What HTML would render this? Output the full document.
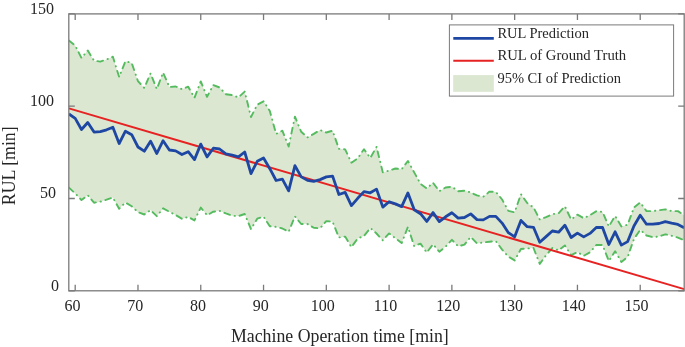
<!DOCTYPE html><html><head><meta charset="utf-8"><style>html,body{margin:0;padding:0;background:#fff;}svg{display:block;will-change:transform;}text{font-family:"Liberation Serif",serif;fill:#262626;}</style></head><body>
<svg width="685" height="347" viewBox="0 0 685 347">
<defs><clipPath id="c"><rect x="68.80" y="13.90" width="615.40" height="276.90"/></clipPath></defs>
<rect width="685" height="347" fill="#fff"/>
<g clip-path="url(#c)">
<polygon points="68.92,40.50 75.20,45.50 81.48,58.00 87.76,50.50 94.03,60.70 100.31,61.60 106.59,59.50 112.87,56.70 119.15,77.00 125.42,61.20 131.70,63.00 137.98,81.20 144.26,87.90 150.54,73.50 156.81,89.00 163.09,72.60 169.37,87.00 175.65,86.50 181.93,89.20 188.20,86.70 194.48,97.70 200.76,81.40 207.04,96.80 213.32,85.10 219.59,87.50 225.87,94.20 232.15,95.10 238.43,97.40 244.71,91.60 250.98,117.00 257.26,104.70 263.54,101.30 269.82,110.90 276.10,133.90 282.37,130.70 288.65,146.50 294.93,116.70 301.21,131.80 307.49,137.40 313.76,133.90 320.04,130.00 326.32,132.50 332.60,130.70 338.88,148.80 345.15,149.40 351.43,162.70 357.71,158.30 363.99,149.20 370.27,158.00 376.54,146.90 382.82,172.40 389.10,170.60 395.38,168.50 401.66,169.20 407.93,161.00 414.21,172.40 420.49,183.80 426.77,188.40 433.05,182.80 439.32,191.20 445.60,187.50 451.88,186.70 458.16,191.20 464.44,190.70 470.71,192.50 476.99,195.40 483.27,196.80 489.55,191.60 495.83,191.90 502.10,199.50 508.38,210.90 514.66,212.30 520.94,194.20 527.22,203.00 533.49,207.40 539.77,219.50 546.05,217.20 552.33,214.20 558.61,213.30 564.88,206.30 571.16,219.50 577.44,214.70 583.72,218.20 590.00,215.10 596.27,211.20 602.55,211.90 608.83,226.50 615.11,216.00 621.39,226.50 627.66,224.70 633.94,207.50 640.22,202.50 646.50,211.10 652.78,211.10 659.05,210.30 665.33,209.40 671.61,211.10 677.89,211.10 684.17,215.50 684.17,240.20 677.89,237.60 671.61,235.80 665.33,234.30 659.05,236.50 652.78,237.20 646.50,235.50 640.22,229.80 633.94,239.00 627.66,257.00 621.39,261.90 615.11,251.20 608.83,261.00 602.55,245.00 596.27,245.00 590.00,252.30 583.72,255.80 577.44,252.10 571.16,255.10 564.88,245.40 558.61,250.30 552.33,248.00 546.05,255.30 539.77,263.90 533.49,248.00 527.22,248.50 520.94,249.00 514.66,260.40 508.38,256.60 502.10,249.60 495.83,241.10 489.55,241.70 483.27,242.50 476.99,243.40 470.71,236.90 464.44,244.60 458.16,246.30 451.88,239.80 445.60,246.60 439.32,251.70 433.05,244.30 426.77,252.50 420.49,243.60 414.21,246.20 407.93,226.90 401.66,243.10 395.38,238.20 389.10,233.40 382.82,240.40 376.54,233.50 370.27,228.00 363.99,236.00 357.71,238.50 351.43,247.10 345.15,236.60 338.88,237.50 332.60,221.70 326.32,221.10 320.04,228.30 313.76,227.80 307.49,224.00 301.21,224.00 294.93,216.40 288.65,231.80 282.37,228.50 276.10,226.90 269.82,226.20 263.54,216.60 257.26,218.70 250.98,229.20 244.71,214.00 238.43,216.10 232.15,215.70 225.87,213.40 219.59,210.80 213.32,211.70 207.04,215.20 200.76,207.60 194.48,220.40 188.20,216.90 181.93,218.80 175.65,215.00 169.37,211.80 163.09,208.30 156.81,216.20 150.54,210.10 144.26,214.50 137.98,212.20 131.70,206.20 125.42,202.50 119.15,208.70 112.87,197.50 106.59,199.60 100.31,201.70 94.03,202.70 87.76,195.20 81.48,200.10 75.20,193.40 68.92,187.60" fill="#dbe7d1"/>
<polyline points="68.92,40.50 75.20,45.50 81.48,58.00 87.76,50.50 94.03,60.70 100.31,61.60 106.59,59.50 112.87,56.70 119.15,77.00 125.42,61.20 131.70,63.00 137.98,81.20 144.26,87.90 150.54,73.50 156.81,89.00 163.09,72.60 169.37,87.00 175.65,86.50 181.93,89.20 188.20,86.70 194.48,97.70 200.76,81.40 207.04,96.80 213.32,85.10 219.59,87.50 225.87,94.20 232.15,95.10 238.43,97.40 244.71,91.60 250.98,117.00 257.26,104.70 263.54,101.30 269.82,110.90 276.10,133.90 282.37,130.70 288.65,146.50 294.93,116.70 301.21,131.80 307.49,137.40 313.76,133.90 320.04,130.00 326.32,132.50 332.60,130.70 338.88,148.80 345.15,149.40 351.43,162.70 357.71,158.30 363.99,149.20 370.27,158.00 376.54,146.90 382.82,172.40 389.10,170.60 395.38,168.50 401.66,169.20 407.93,161.00 414.21,172.40 420.49,183.80 426.77,188.40 433.05,182.80 439.32,191.20 445.60,187.50 451.88,186.70 458.16,191.20 464.44,190.70 470.71,192.50 476.99,195.40 483.27,196.80 489.55,191.60 495.83,191.90 502.10,199.50 508.38,210.90 514.66,212.30 520.94,194.20 527.22,203.00 533.49,207.40 539.77,219.50 546.05,217.20 552.33,214.20 558.61,213.30 564.88,206.30 571.16,219.50 577.44,214.70 583.72,218.20 590.00,215.10 596.27,211.20 602.55,211.90 608.83,226.50 615.11,216.00 621.39,226.50 627.66,224.70 633.94,207.50 640.22,202.50 646.50,211.10 652.78,211.10 659.05,210.30 665.33,209.40 671.61,211.10 677.89,211.10 684.17,215.50" fill="none" stroke="#55bb5f" stroke-width="1.9" stroke-dasharray="5.9 4.8 0.3 4.7" stroke-linejoin="round" stroke-linecap="round"/>
<polyline points="68.92,187.60 75.20,193.40 81.48,200.10 87.76,195.20 94.03,202.70 100.31,201.70 106.59,199.60 112.87,197.50 119.15,208.70 125.42,202.50 131.70,206.20 137.98,212.20 144.26,214.50 150.54,210.10 156.81,216.20 163.09,208.30 169.37,211.80 175.65,215.00 181.93,218.80 188.20,216.90 194.48,220.40 200.76,207.60 207.04,215.20 213.32,211.70 219.59,210.80 225.87,213.40 232.15,215.70 238.43,216.10 244.71,214.00 250.98,229.20 257.26,218.70 263.54,216.60 269.82,226.20 276.10,226.90 282.37,228.50 288.65,231.80 294.93,216.40 301.21,224.00 307.49,224.00 313.76,227.80 320.04,228.30 326.32,221.10 332.60,221.70 338.88,237.50 345.15,236.60 351.43,247.10 357.71,238.50 363.99,236.00 370.27,228.00 376.54,233.50 382.82,240.40 389.10,233.40 395.38,238.20 401.66,243.10 407.93,226.90 414.21,246.20 420.49,243.60 426.77,252.50 433.05,244.30 439.32,251.70 445.60,246.60 451.88,239.80 458.16,246.30 464.44,244.60 470.71,236.90 476.99,243.40 483.27,242.50 489.55,241.70 495.83,241.10 502.10,249.60 508.38,256.60 514.66,260.40 520.94,249.00 527.22,248.50 533.49,248.00 539.77,263.90 546.05,255.30 552.33,248.00 558.61,250.30 564.88,245.40 571.16,255.10 577.44,252.10 583.72,255.80 590.00,252.30 596.27,245.00 602.55,245.00 608.83,261.00 615.11,251.20 621.39,261.90 627.66,257.00 633.94,239.00 640.22,229.80 646.50,235.50 652.78,237.20 659.05,236.50 665.33,234.30 671.61,235.80 677.89,237.60 684.17,240.20" fill="none" stroke="#55bb5f" stroke-width="1.9" stroke-dasharray="5.9 4.8 0.3 4.7" stroke-linejoin="round" stroke-linecap="round"/>
<line x1="68.92" y1="108.40" x2="684.17" y2="289.10" stroke="#e62222" stroke-width="2.0"/>
<polyline points="68.92,114.00 75.20,118.40 81.48,129.50 87.76,122.50 94.03,132.10 100.31,131.60 106.59,129.80 112.87,127.20 119.15,143.50 125.42,131.20 131.70,134.70 137.98,147.00 144.26,151.20 150.54,141.20 156.81,153.50 163.09,140.70 169.37,150.00 175.65,150.90 181.93,154.50 188.20,151.70 194.48,159.60 200.76,144.10 207.04,156.90 213.32,148.20 219.59,149.00 225.87,153.90 232.15,155.20 238.43,156.90 244.71,152.00 250.98,173.60 257.26,161.30 263.54,158.00 269.82,168.70 276.10,180.50 282.37,179.20 288.65,190.90 294.93,165.60 301.21,176.90 307.49,180.40 313.76,181.30 320.04,179.60 326.32,176.90 332.60,176.10 338.88,194.50 345.15,192.40 351.43,205.60 357.71,198.30 363.99,191.60 370.27,192.80 376.54,189.10 382.82,207.10 389.10,201.70 395.38,203.90 401.66,206.60 407.93,192.90 414.21,209.70 420.49,213.70 426.77,221.40 433.05,212.60 439.32,221.60 445.60,216.80 451.88,212.80 458.16,218.10 464.44,217.50 470.71,213.90 476.99,219.60 483.27,219.90 489.55,216.40 495.83,216.40 502.10,223.10 508.38,232.70 514.66,236.80 520.94,220.40 527.22,226.70 533.49,227.30 539.77,242.30 546.05,236.60 552.33,231.00 558.61,232.20 564.88,225.20 571.16,237.50 577.44,233.10 583.72,236.90 590.00,233.40 596.27,227.50 602.55,227.40 608.83,244.50 615.11,231.80 621.39,245.10 627.66,241.60 633.94,226.00 640.22,215.30 646.50,224.20 652.78,224.20 659.05,223.50 665.33,221.60 671.61,223.20 677.89,224.40 684.17,227.80" fill="none" stroke="#1e47a4" stroke-width="2.8" stroke-linejoin="round"/>
</g>
<g stroke="#7a7a7a" stroke-width="1.3" fill="none">
<rect x="68.80" y="13.90" width="615.40" height="276.90"/>
<path d="M75.20 290.80V284.80M75.20 13.90V19.90M137.98 290.80V284.80M137.98 13.90V19.90M200.76 290.80V284.80M200.76 13.90V19.90M263.54 290.80V284.80M263.54 13.90V19.90M326.32 290.80V284.80M326.32 13.90V19.90M389.10 290.80V284.80M389.10 13.90V19.90M451.88 290.80V284.80M451.88 13.90V19.90M514.66 290.80V284.80M514.66 13.90V19.90M577.44 290.80V284.80M577.44 13.90V19.90M640.22 290.80V284.80M640.22 13.90V19.90M68.80 290.80H74.80M684.20 290.80H678.20M68.80 198.50H74.80M684.20 198.50H678.20M68.80 106.20H74.80M684.20 106.20H678.20M68.80 13.90H74.80M684.20 13.90H678.20"/>
</g>
<text x="72.45" y="311.0" font-size="16" text-anchor="middle">60</text>
<text x="135.23" y="311.0" font-size="16" text-anchor="middle">70</text>
<text x="198.01" y="311.0" font-size="16" text-anchor="middle">80</text>
<text x="260.79" y="311.0" font-size="16" text-anchor="middle">90</text>
<text x="322.72" y="311.0" font-size="16" text-anchor="middle">100</text>
<text x="385.50" y="311.0" font-size="16" text-anchor="middle">110</text>
<text x="448.28" y="311.0" font-size="16" text-anchor="middle">120</text>
<text x="511.06" y="311.0" font-size="16" text-anchor="middle">130</text>
<text x="573.84" y="311.0" font-size="16" text-anchor="middle">140</text>
<text x="636.62" y="311.0" font-size="16" text-anchor="middle">150</text>
<text x="54.10" y="13.70" font-size="16" text-anchor="end">150</text>
<text x="53.90" y="105.60" font-size="16" text-anchor="end">100</text>
<text x="56.00" y="197.70" font-size="16" text-anchor="end">50</text>
<text x="59.00" y="290.50" font-size="16" text-anchor="end">0</text>
<text x="231" y="341.5" font-size="17.8">Machine Operation time [min]</text>
<text transform="translate(14.8,165.8) rotate(-90)" font-size="17.8" text-anchor="middle">RUL [min]</text>
<rect x="449.4" y="24.9" width="224.2" height="71.2" fill="#fff" stroke="#7a7a7a" stroke-width="1"/>
<line x1="453.3" y1="38.3" x2="493.8" y2="38.3" stroke="#1e47a4" stroke-width="2.8"/>
<line x1="453.3" y1="60.85" x2="493.8" y2="60.85" stroke="#e62222" stroke-width="2.0"/>
<rect x="453.2" y="75.1" width="40.6" height="16.7" fill="#dbe7d1"/>
<text x="497.4" y="37.6" font-size="14.5">RUL Prediction</text>
<text x="497.4" y="60.4" font-size="14.7">RUL of Ground Truth</text>
<text x="497.4" y="82.8" font-size="14.5">95% CI of Prediction</text>
</svg></body></html>
